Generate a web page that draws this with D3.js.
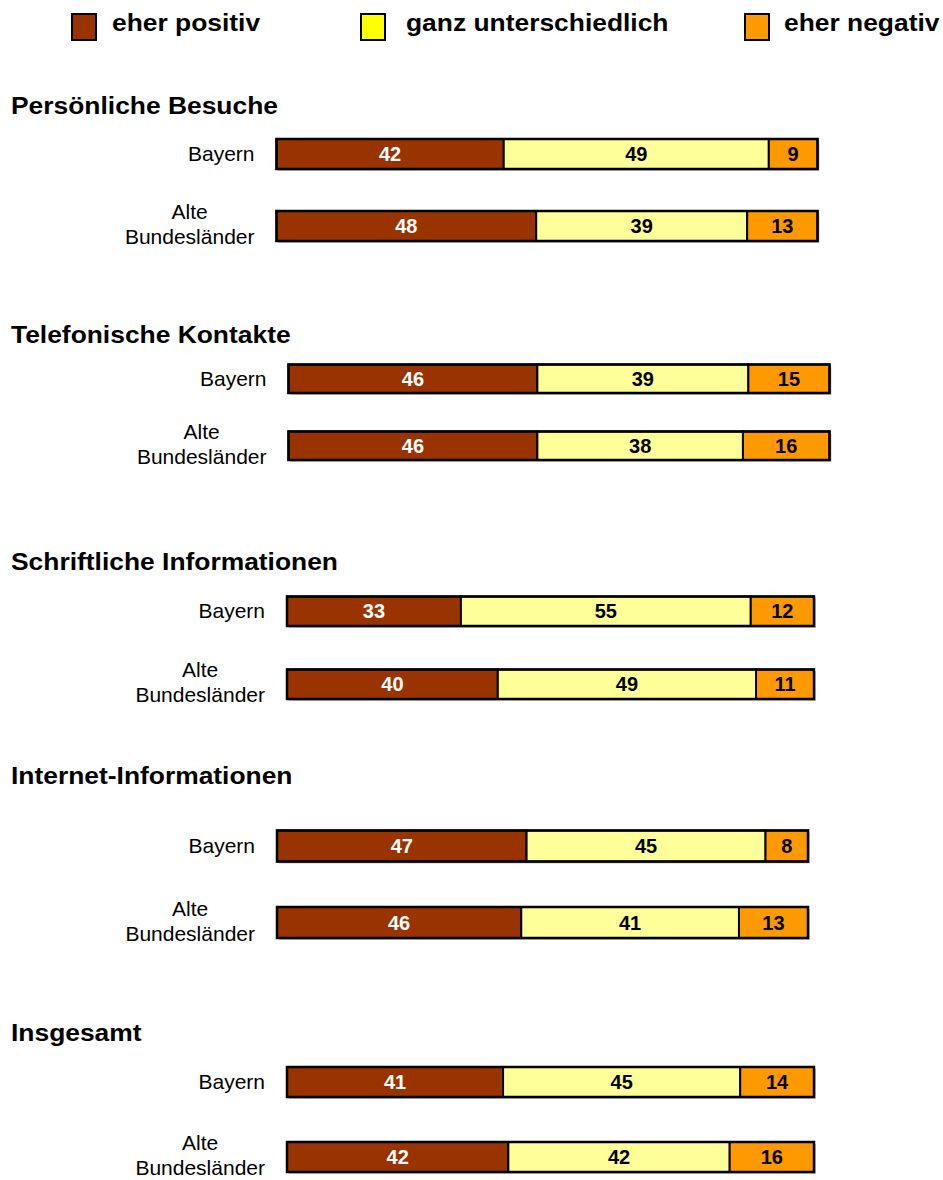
<!DOCTYPE html>
<html>
<head>
<meta charset="utf-8">
<script src="https://cdn.jsdelivr.net/npm/d3@7"></script>
<style>
  html, body { margin: 0; padding: 0; background: #ffffff; }
  svg { display: block; }
</style>
</head>
<body>
<div id="chart"></div>
<script>
// ---------- data ----------
const categories = ["Persönliche Besuche", "Telefonische Kontakte", "Schriftliche Informationen", "Internet-Informationen", "Insgesamt"];
const regions = ["Bayern", "Alte Bundesländer"];
const seriesNames = ["eher positiv", "ganz unterschiedlich", "eher negativ"];

const positivBayern = [42, 46, 33, 47, 41];
const positivAlte   = [48, 46, 40, 46, 42];
const unterschiedlichBayern = [49, 39, 55, 45, 45];
const unterschiedlichAlte   = [39, 38, 49, 41, 42];
const negativBayern = [9, 15, 12, 8, 14];
const negativAlte   = [13, 16, 11, 13, 16];

// ---------- layout (each panel was a separate chart) ----------
const W = 943, H = 1180;
const panels = [
  { left: 276.5, right: 817.5, top: 139, bottom: 241, barH: 30, title: 114 },
  { left: 288.5, right: 829.5, top: 364.5, bottom: 460, barH: 28.5, title: 343 },
  { left: 287,   right: 814,   top: 596.5, bottom: 699, barH: 29.5, title: 570 },
  { left: 277,   right: 808,   top: 830.5, bottom: 938, barH: 31, title: 784 },
  { left: 287,   right: 814,   top: 1067, bottom: 1172, barH: 30, title: 1041 }
];
const colors = ["#993300", "#FFFF99", "#FF9900"];
const legendColors = ["#993300", "#FFFF00", "#FF9900"];
const textColors = ["#ffffff", "#000000", "#000000"];
const FONT = "'Liberation Sans', Arial, Helvetica, sans-serif";

const svg = d3.select("#chart").append("svg")
  .attr("width", W).attr("height", H)
  .style("font-family", FONT);

// ---------- legend ----------
const legendX = [72, 361, 745];
const legendTextX = [112, 406, 784];
const legend = svg.append("g");
seriesNames.forEach((name, i) => {
  legend.append("rect")
    .attr("x", legendX[i]).attr("y", 14)
    .attr("width", 24).attr("height", 26)
    .attr("fill", legendColors[i])
    .attr("stroke", "#000").attr("stroke-width", 2);
  legend.append("text")
    .attr("transform", `translate(${legendTextX[i]},31) scale(1.1,1)`)
    .attr("font-size", 24).attr("font-weight", "bold")
    .attr("fill", "#000")
    .text(name);
});

// ---------- panels ----------
categories.forEach((cat, ci) => {
  const p = panels[ci];
  const g = svg.append("g");

  // title
  g.append("text")
    .attr("transform", `translate(11,${p.title}) scale(1.1,1)`)
    .attr("font-size", 24).attr("font-weight", "bold")
    .attr("fill", "#000")
    .text(cat);

  const x = d3.scaleLinear().domain([0, 100]).range([p.left, p.right]);
  const span = p.bottom - p.top;
  const step = span - p.barH;
  const y = d3.scaleBand().domain(regions).range([p.top, p.bottom])
    .paddingInner(1 - p.barH / step).paddingOuter(0);

  const rows = [
    [positivBayern[ci], unterschiedlichBayern[ci], negativBayern[ci]],
    [positivAlte[ci], unterschiedlichAlte[ci], negativAlte[ci]]
  ];

  regions.forEach((reg, ri) => {
    const vals = rows[ri];
    const stacked = [];
    let acc = 0;
    vals.forEach((v, si) => { stacked.push({ x0: acc, x1: acc + v, v: v, si: si }); acc += v; });
    const y0 = y(reg), bh = y.bandwidth();
    const cy = y0 + bh / 2;

    // shadow line
    g.append("rect")
      .attr("x", x(0) + 2).attr("y", y0 + 2)
      .attr("width", x(100) - x(0)).attr("height", bh)
      .attr("fill", "#c8c8c8");

    g.selectAll(null).data(stacked).enter().append("rect")
      .attr("x", d => x(d.x0)).attr("y", y0)
      .attr("width", d => x(d.x1) - x(d.x0)).attr("height", bh)
      .attr("fill", d => colors[d.si])
      .attr("stroke", "#000").attr("stroke-width", 2);

    g.append("rect")
      .attr("x", x(0)).attr("y", y0)
      .attr("width", x(100) - x(0)).attr("height", bh)
      .attr("fill", "none").attr("stroke", "#000").attr("stroke-width", 2.5);

    g.selectAll(null).data(stacked).enter().append("text")
      .attr("x", d => (x(d.x0) + x(d.x1)) / 2)
      .attr("y", cy + 7)
      .attr("text-anchor", "middle")
      .attr("font-size", 20).attr("font-weight", "bold")
      .attr("fill", d => textColors[d.si])
      .text(d => d.v);

    // category label
    const labelRight = p.left - 22;
    const words = reg === "Bayern" ? ["Bayern"] : ["Alte", "Bundesländer"];
    if (words.length === 1) {
      g.append("text")
        .attr("x", labelRight).attr("y", cy + 7)
        .attr("text-anchor", "end")
        .attr("font-size", 21).attr("fill", "#000")
        .text(words[0]);
    } else {
      const t2 = g.append("text")
        .attr("x", labelRight).attr("y", cy + 18)
        .attr("text-anchor", "end")
        .attr("font-size", 21).attr("fill", "#000")
        .text(words[1]);
      const w2 = t2.node().getComputedTextLength();
      g.append("text")
        .attr("x", labelRight - w2 / 2).attr("y", cy - 7)
        .attr("text-anchor", "middle")
        .attr("font-size", 21).attr("fill", "#000")
        .text(words[0]);
    }
  });
});
</script>
</body>
</html>
